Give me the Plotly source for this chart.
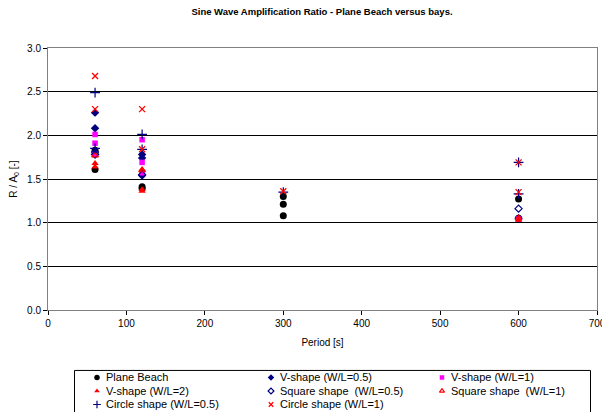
import plotly.graph_objects as go

# Wave periods [s] and measured amplification ratios R/A0 for each geometry
plane_beach_T = [60, 60, 60, 120, 120, 300, 300, 300, 600, 600]
plane_beach_R = [1.83, 1.80, 1.61, 1.41, 1.39, 1.30, 1.21, 1.08, 1.27, 1.05]

v05_T = [60, 60, 60, 120, 120, 120, 600]
v05_R = [2.26, 2.08, 1.81, 1.78, 1.74, 1.54, 1.05]

v1_T = [60, 60, 60, 120, 120, 120, 600]
v1_R = [2.01, 1.91, 1.78, 1.95, 1.69, 1.57, 1.04]

v2_T = [60, 60, 120, 120, 120, 600]
v2_R = [1.68, 1.64, 1.61, 1.38, 1.36, 1.03]

sq05_T = [60, 120, 600]
sq05_R = [1.78, 1.55, 1.16]

sq1_T = [60, 120, 600]
sq1_R = [1.77, 1.60, 1.05]

c05_T = [60, 60, 120, 120, 300, 600, 600]
c05_R = [2.49, 1.85, 2.01, 1.84, 1.35, 1.69, 1.33]

c1_T = [60, 60, 120, 120, 300, 600, 600]
c1_R = [2.68, 2.30, 2.30, 1.84, 1.36, 1.69, 1.35]

x_ticks = [0, 100, 200, 300, 400, 500, 600, 700]
y_ticks = [0.0, 0.5, 1.0, 1.5, 2.0, 2.5, 3.0]

NAVY = "#000080"
MAGENTA = "#FF00FF"
RED = "#FF0000"
FONT = "Liberation Sans, Arial, sans-serif"

W, H = 602, 412

series = [
    ("Plane Beach", plane_beach_T, plane_beach_R, dict(symbol="circle", size=7, color="black")),
    ("V-shape (W/L=0.5)", v05_T, v05_R, dict(symbol="diamond", size=6.5, color=NAVY)),
    ("V-shape (W/L=1)", v1_T, v1_R, dict(symbol="square", size=5.5, color=MAGENTA)),
    ("V-shape (W/L=2)", v2_T, v2_R, dict(symbol="triangle-up", size=6.5, color=RED)),
    ("Square shape  (W/L=0.5)", sq05_T, sq05_R,
     dict(symbol="diamond-open", size=5.5, color=NAVY, line=dict(width=1.2, color=NAVY))),
    ("Square shape  (W/L=1)", sq1_T, sq1_R,
     dict(symbol="triangle-up-open", size=6, color=RED, line=dict(width=1.1, color=RED))),
    ("Circle shape (W/L=0.5)", c05_T, c05_R,
     dict(symbol="cross-thin", size=7, color=NAVY, line=dict(width=1.2, color=NAVY))),
    ("Circle shape (W/L=1)", c1_T, c1_R,
     dict(symbol="x-thin", size=6, color=RED, line=dict(width=1.3, color=RED))),
]

fig = go.Figure()
for name, xs, ys, marker in series:
    fig.add_trace(go.Scatter(x=xs, y=ys, mode="markers", name=name,
                             marker=marker, showlegend=False))

# Legend panel below the chart: a pixel-scaled overlay axis holding one key
# marker per series, laid out in three columns.
leg_cols = [97, 271, 442]
leg_rows = [377.5, 391.0, 404.5]
leg_top, leg_left, leg_right = 370.5, 74.5, 590.5
for i, (name, _, _, marker) in enumerate(series):
    col, row = leg_cols[i % 3], leg_rows[i // 3]
    key = dict(marker)
    key["size"] = max(key["size"] - 1.5, 4.5)
    fig.add_trace(go.Scatter(x=[col], y=[row], mode="markers", marker=key,
                             xaxis="x2", yaxis="y2", showlegend=False,
                             hoverinfo="skip", cliponaxis=False))
    fig.add_annotation(x=col + 7, y=row, xref="x2", yref="y2", text=name,
                       showarrow=False, xanchor="left", yanchor="middle",
                       font=dict(family=FONT, size=11, color="black"))

fig.add_shape(type="rect", xref="x2", yref="y2",
              x0=leg_left, x1=leg_right, y0=leg_top, y1=H + 10,
              line=dict(color="black", width=1), fillcolor="rgba(0,0,0,0)",
              layer="below")

fig.update_layout(
    width=W,
    height=H,
    autosize=False,
    margin=dict(l=0, r=0, t=0, b=0, autoexpand=False),
    paper_bgcolor="white",
    plot_bgcolor="white",
    font=dict(family=FONT, size=10, color="black"),
    showlegend=False,
    title=dict(
        text="<b>Sine Wave Amplification Ratio - Plane Beach versus bays.</b>",
        font=dict(family=FONT, size=9.5, color="black"),
        x=322 / W, xanchor="center", y=1 - 12 / H, yanchor="middle",
    ),
    xaxis=dict(
        domain=[48 / W, 597 / W],
        range=[0, 700], tickvals=x_ticks, ticks="outside", ticklen=4,
        ticklabeloverflow="allow",
        tickcolor="black", showgrid=False, zeroline=False, automargin=False,
        showline=True, linecolor="#808080", linewidth=1, mirror=True,
        title=dict(text="Period [s]", font=dict(size=10), standoff=10),
        tickfont=dict(size=10),
    ),
    yaxis=dict(
        domain=[1 - 310 / H, 1 - 48 / H],
        range=[0, 3], tickvals=y_ticks, tickformat=".1f", ticks="outside",
        ticklen=4, tickcolor="black", showgrid=True, gridcolor="black",
        gridwidth=1, zeroline=False, automargin=False,
        showline=True, linecolor="#808080", linewidth=1, mirror=True,
        title=dict(text="R / A<sub>0</sub> [-]", font=dict(size=10), standoff=7),
        tickfont=dict(size=10),
    ),
    xaxis2=dict(domain=[0, 1], range=[0, W], visible=False, fixedrange=True),
    yaxis2=dict(domain=[0, 1 - leg_top / H + 0.004], range=[H, leg_top - 1.6],
                visible=False, fixedrange=True),
)

fig.write_html("out.html")
